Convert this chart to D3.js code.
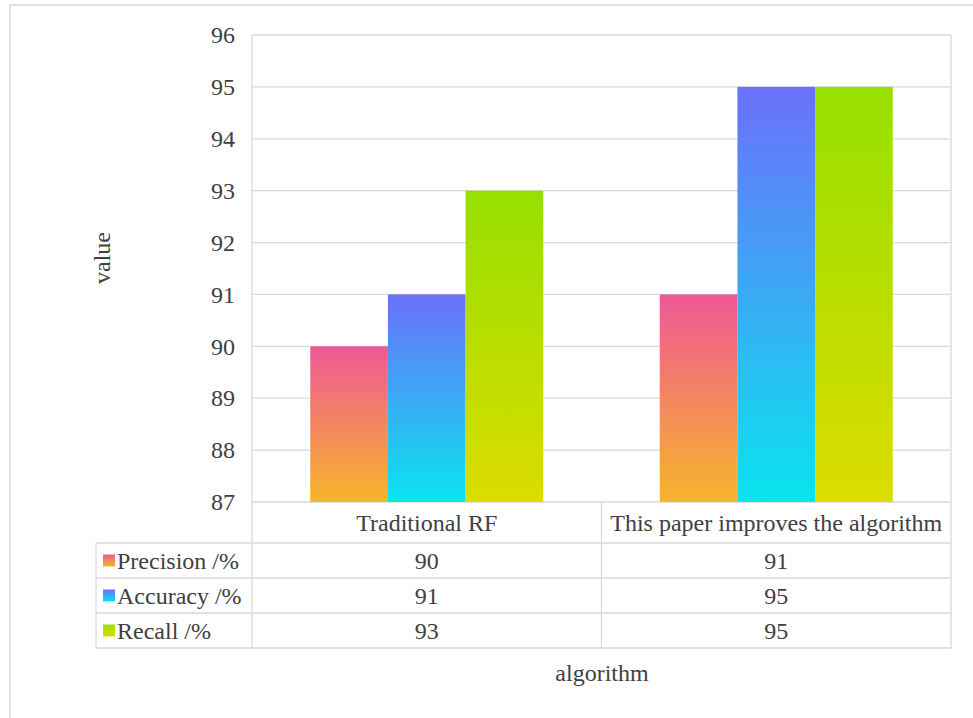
<!DOCTYPE html>
<html><head><meta charset="utf-8">
<script src="https://cdn.jsdelivr.net/npm/d3@7/dist/d3.min.js"></script>
</head>
<body style="margin:0;background:#fff">
<svg id="chart" width="973" height="718" font-family="Liberation Serif" style="font-family:'Liberation Serif','Times New Roman',Tinos,FreeSerif,serif"></svg>
<script>
const categories = ["Traditional RF", "This paper improves the algorithm"];
const seriesNames = ["Precision /%", "Accuracy /%", "Recall /%"];
const precision = [90, 91];
const accuracy = [91, 95];
const recall = [93, 95];
const yTicks = [87, 88, 89, 90, 91, 92, 93, 94, 95, 96];
const gradTop = ["#ee5896", "#6b70fb", "#96e000"];
const gradBottom = ["#f8b42a", "#0ae4ee", "#dcdc00"];

(function(){
const series = [precision, accuracy, recall];
const svg = d3.select("#chart");
const gridCol = "#d9d9d9";
const FS = 24;
const FF = "'Liberation Serif','Times New Roman',Tinos,FreeSerif,serif";
const TC = "#404040";
function txt(sel){ return sel.style("font-family",FF).style("font-size",FS+"px").attr("fill",TC); }

svg.append("line").attr("x1",10).attr("x2",973).attr("y1",5).attr("y2",5).attr("stroke","#d9d9d9").attr("stroke-width",1.5);
svg.append("line").attr("x1",10).attr("x2",10).attr("y1",5).attr("y2",718).attr("stroke","#d9d9d9").attr("stroke-width",1.5);

const pLeft = 252, pRight = 951, pTop = 35, pBottom = 502;
const y = d3.scaleLinear().domain([87, 96]).range([pBottom, pTop]);
const x0 = d3.scaleBand().domain(categories).range([pLeft, pRight]);
const x1 = d3.scaleBand().domain(seriesNames).range([0, x0.bandwidth()]).paddingOuter(0.75).paddingInner(0);

const defs = svg.append("defs");
seriesNames.forEach((s,i)=>{
  const g = defs.append("linearGradient").attr("id","g"+i).attr("x1",0).attr("y1",0).attr("x2",0).attr("y2",1);
  g.append("stop").attr("offset","0%").attr("stop-color",gradTop[i]);
  g.append("stop").attr("offset","100%").attr("stop-color",gradBottom[i]);
});

svg.append("g").selectAll("line").data(yTicks).join("line")
  .attr("x1",pLeft).attr("x2",pRight).attr("y1",d=>y(d)).attr("y2",d=>y(d))
  .attr("stroke",gridCol).attr("stroke-width",1.3);
svg.append("line").attr("x1",pLeft).attr("x2",pLeft).attr("y1",pTop).attr("y2",pBottom).attr("stroke",gridCol).attr("stroke-width",1.3);
svg.append("line").attr("x1",pRight).attr("x2",pRight).attr("y1",pTop).attr("y2",pBottom).attr("stroke",gridCol).attr("stroke-width",1.3);

const yAxis = svg.append("g").attr("transform",`translate(${pLeft},0)`)
  .call(d3.axisLeft(y).tickValues(yTicks).tickSize(0).tickPadding(17).tickFormat(d3.format("d")));
yAxis.attr("font-family",null).attr("font-size",null);
yAxis.select(".domain").remove();
yAxis.selectAll("text").call(txt);

categories.forEach((c,ci)=>{
  seriesNames.forEach((s,si)=>{
    const v = series[si][ci];
    svg.append("rect")
      .attr("x", x0(c)+x1(s)).attr("width", x1.bandwidth())
      .attr("y", y(v)).attr("height", y(87)-y(v))
      .attr("fill","url(#g"+si+")");
  });
});

const tLeft = 96, rowH = [502, 543, 578, 613, 648];
const tbl = svg.append("g");
[rowH[1], rowH[2], rowH[3], rowH[4]].forEach(yy=>{
  tbl.append("line").attr("x1",tLeft).attr("x2",pRight).attr("y1",yy).attr("y2",yy).attr("stroke",gridCol).attr("stroke-width",1.3);
});
tbl.append("line").attr("x1",tLeft).attr("x2",tLeft).attr("y1",rowH[1]).attr("y2",rowH[4]).attr("stroke",gridCol).attr("stroke-width",1.3);
[pLeft, x0(categories[1]), pRight].forEach(xx=>{
  tbl.append("line").attr("x1",xx).attr("x2",xx).attr("y1",rowH[0]).attr("y2",rowH[4]).attr("stroke",gridCol).attr("stroke-width",1.3);
});
categories.forEach(c=>{
  tbl.append("text").attr("x",x0(c)+x0.bandwidth()/2).attr("y",(rowH[0]+rowH[1])/2+8)
    .attr("text-anchor","middle").call(txt).text(c);
});
seriesNames.forEach((s,si)=>{
  const cy = (rowH[si+1]+rowH[si+2])/2;
  tbl.append("rect").attr("x",103).attr("y",cy-6).attr("width",12).attr("height",12).attr("fill","url(#g"+si+")");
  tbl.append("text").attr("x",117).attr("y",cy+8).call(txt).text(s);
  categories.forEach((c,ci)=>{
    tbl.append("text").attr("x",x0(c)+x0.bandwidth()/2).attr("y",cy+8)
      .attr("text-anchor","middle").call(txt).text(series[si][ci]);
  });
});

svg.append("text").attr("transform","translate(110,258) rotate(-90)").attr("text-anchor","middle").call(txt).text("value");
svg.append("text").attr("x",602).attr("y",681).attr("text-anchor","middle").call(txt).text("algorithm");
})();
</script>
</body></html>
